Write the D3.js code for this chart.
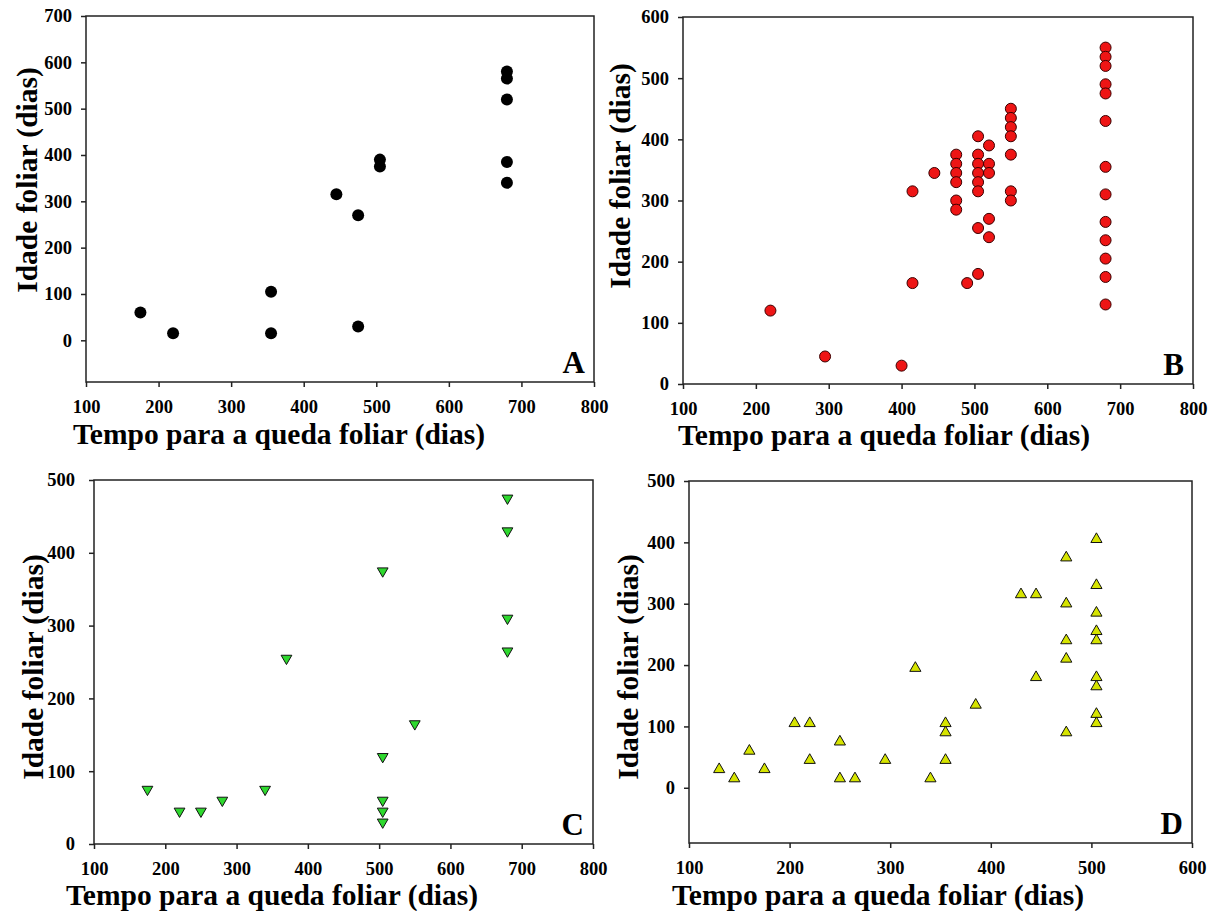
<!DOCTYPE html>
<html>
<head>
<meta charset="utf-8">
<script src="https://cdnjs.cloudflare.com/ajax/libs/d3/7.8.5/d3.min.js"></script>
<style>
  body { margin: 0; background: #fff; }
  text { font-family: "Liberation Serif", "Times New Roman", serif; font-weight: bold; fill: #000; }
</style>
</head>
<body>
<div id="chart"></div>
<script>
// panel A - black circles
var aX = [175, 220, 355, 355, 445, 475, 475, 505, 505, 680, 680, 680, 680, 680];
var aY = [60, 15, 105, 15, 315, 270, 30, 390, 375, 580, 565, 520, 385, 340];

// panel B - red circles
var bX = [220, 295, 400, 415, 415, 445,
  475, 475, 475, 475, 475, 475, 490,
  505, 505, 505, 505, 505, 505, 505, 505,
  520, 520, 520, 520, 520,
  550, 550, 550, 550, 550, 550, 550,
  680, 680, 680, 680, 680, 680, 680, 680, 680, 680, 680, 680, 680];
var bY = [120, 45, 30, 315, 165, 345,
  375, 360, 345, 330, 300, 285, 165,
  405, 375, 360, 345, 330, 315, 255, 180,
  390, 360, 345, 270, 240,
  450, 435, 420, 405, 375, 315, 300,
  550, 535, 520, 490, 475, 430, 355, 310, 265, 235, 205, 175, 130];

// panel C - green down triangles
var cX = [175, 220, 250, 280, 340, 370, 505, 505, 505, 505, 505, 550, 680, 680, 680, 680];
var cY = [75, 45, 45, 60, 75, 255, 375, 120, 60, 45, 30, 165, 475, 430, 310, 265];

// panel D - yellow up triangles
var dX = [130, 145, 160, 175, 205, 220, 220, 250, 250, 265, 295, 325, 340,
  355, 355, 355, 385, 430, 445, 445,
  475, 475, 475, 475, 475,
  505, 505, 505, 505, 505, 505, 505, 505, 505];
var dY = [30, 15, 60, 30, 105, 105, 45, 75, 15, 15, 45, 195, 15,
  105, 90, 45, 135, 315, 315, 180,
  375, 300, 240, 210, 90,
  405, 330, 285, 255, 240, 180, 165, 120, 105];

// tick labels
var xTicks800 = [100, 200, 300, 400, 500, 600, 700, 800];
var xTicks600 = [100, 200, 300, 400, 500, 600];
var yTicksA = [0, 100, 200, 300, 400, 500, 600, 700];
var yTicksB = [0, 100, 200, 300, 400, 500, 600];
var yTicksCD = [0, 100, 200, 300, 400, 500];

var xTitle = 'Tempo para a queda foliar (dias)';
var yTitle = 'Idade foliar (dias)';

var svg = d3.select('#chart')
  .append('svg')
  .attr('width', 1219)
  .attr('height', 911);

var panels = [
  { letter: 'A', x: aX, y: aY, xTicks: xTicks800, yTicks: yTicksA, xDom: [100, 800], yDom: [-90, 700],
    l: 86, r: 594, t: 16, b: 382, ytx: 27, yty: 180, xtx: 279, xty: 444, mark: 'dot' },
  { letter: 'B', x: bX, y: bY, xTicks: xTicks800, yTicks: yTicksB, xDom: [100, 800], yDom: [0, 600],
    l: 683, r: 1193, t: 17, b: 384, ytx: 620, yty: 176, xtx: 884, xty: 445, mark: 'red' },
  { letter: 'C', x: cX, y: cY, xTicks: xTicks800, yTicks: yTicksCD, xDom: [100, 800], yDom: [0, 500],
    l: 94, r: 593, t: 480, b: 844, ytx: 33, yty: 667, xtx: 272, xty: 905, mark: 'down' },
  { letter: 'D', x: dX, y: dY, xTicks: xTicks600, yTicks: yTicksCD, xDom: [100, 600], yDom: [-90, 500],
    l: 689, r: 1192, t: 481, b: 843, ytx: 628, yty: 667, xtx: 878, xty: 905, mark: 'up' }
];

panels.forEach(drawPanel);

function drawPanel(p) {
  var x = d3.scaleLinear().domain(p.xDom).range([p.l, p.r]);
  var y = d3.scaleLinear().domain(p.yDom).range([p.b, p.t]);
  var g = svg.append('g');

  // frame
  g.append('rect')
    .attr('x', p.l).attr('y', p.t)
    .attr('width', p.r - p.l).attr('height', p.b - p.t)
    .attr('fill', 'none')
    .attr('stroke', '#222')
    .attr('stroke-width', 1.5);

  // axes
  var xAxis = g.append('g')
    .attr('transform', 'translate(0,' + p.b + ')')
    .call(d3.axisBottom(x).tickValues(p.xTicks).tickSize(5).tickSizeOuter(0).tickPadding(13));
  var yAxis = g.append('g')
    .attr('transform', 'translate(' + p.l + ',0)')
    .call(d3.axisLeft(y).tickValues(p.yTicks).tickSize(5).tickSizeOuter(0).tickPadding(p.letter === 'C' ? 14 : 9));
  [xAxis, yAxis].forEach(function(a) {
    a.select('.domain').remove();
    a.selectAll('line').attr('stroke', '#222').attr('stroke-width', 1.5);
    a.selectAll('text').attr('font-size', 18.5).attr('font-family', null).attr('fill', '#000');
  });

  // titles
  g.append('text')
    .attr('x', p.xtx).attr('y', p.xty)
    .attr('text-anchor', 'middle')
    .attr('font-size', 29.5)
    .text(xTitle);
  g.append('text')
    .attr('transform', 'translate(' + p.ytx + ',' + p.yty + ') rotate(-90)')
    .attr('text-anchor', 'middle')
    .attr('dy', '0.35em')
    .attr('font-size', 29.5)
    .text(yTitle);

  // panel letter
  g.append('text')
    .attr('x', p.r - 9).attr('y', p.b - 9)
    .attr('text-anchor', 'end')
    .attr('font-size', 31)
    .text(p.letter);

  var pts = p.x.map(function(d, i) { return [d, p.y[i]]; });

  if (p.mark === 'dot' || p.mark === 'red') {
    g.selectAll('.pt')
      .data(pts).enter()
      .append('circle').classed('pt', true)
      .attr('cx', function(d) { return x(d[0]); })
      .attr('cy', function(d) { return y(d[1]); })
      .attr('r', p.mark === 'dot' ? 6 : 5.5)
      .attr('fill', p.mark === 'dot' ? '#000' : '#ee1515')
      .attr('stroke', p.mark === 'dot' ? 'none' : '#3a0000')
      .attr('stroke-width', 1);
  } else {
    var sym = d3.symbol().type(d3.symbolTriangle).size(p.mark === 'down' ? 50 : 54);
    g.selectAll('.pt')
      .data(pts).enter()
      .append('path').classed('pt', true)
      .attr('d', sym)
      .attr('transform', function(d) {
        return 'translate(' + x(d[0]) + ',' + y(d[1]) + ')' + (p.mark === 'down' ? ' rotate(180)' : '');
      })
      .attr('fill', p.mark === 'down' ? '#2ed82e' : '#d6e400')
      .attr('stroke', '#111')
      .attr('stroke-width', 1);
  }
}
</script>
</body>
</html>
